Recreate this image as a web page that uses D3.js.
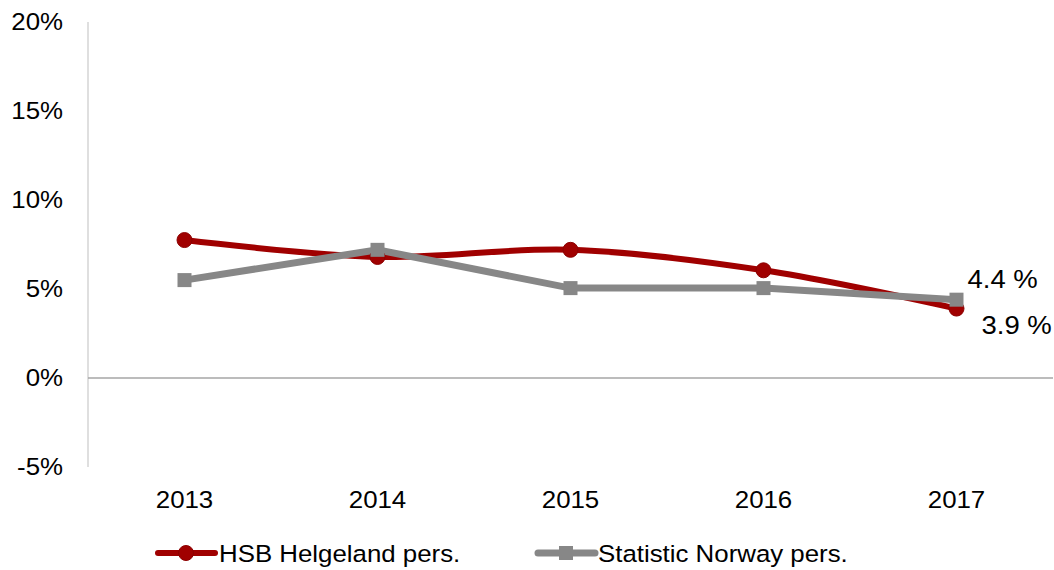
<!DOCTYPE html>
<html>
<head>
<meta charset="utf-8">
<script src="https://cdn.jsdelivr.net/npm/d3@7"></script>
<style>
  body { margin: 0; background: #fff; }
  svg text { font-family: "Liberation Sans", Arial, sans-serif; fill: #000; }
</style>
</head>
<body>
<div id="chart"></div>
<script>
// data
var years = ["2013", "2014", "2015", "2016", "2017"];
var hsbValues = [7.75, 6.8, 7.2, 6.05, 3.9];
var ssbValues = [5.5, 7.2, 5.05, 5.05, 4.4];
var yTicks = [-5, 0, 5, 10, 15, 20];
var seriesNames = ["HSB Helgeland pers.", "Statistic Norway pers."];

var W = 1054, H = 570;
var margin = {top: 22, right: 1, bottom: 103, left: 88};
var width = W - margin.left - margin.right,
    height = H - margin.top - margin.bottom;

var red = "#a00000", grey = "#878787";
var stretch = 1.1; // text in the original is a bit wide

var svg = d3.select("#chart").append("svg")
    .attr("width", W)
    .attr("height", H);

var g = svg.append("g")
    .attr("transform", "translate(" + margin.left + "," + margin.top + ")");

var x = d3.scaleBand().domain(years).range([0, width]);
var y = d3.scaleLinear().domain([-5, 20]).range([height, 0]);

function cx(d, i) { return x(years[i]) + x.bandwidth() / 2; }

// put a wide text at (tx, ty)
function wideText(sel, tx, ty) {
  return sel.attr("transform", "translate(" + tx + "," + ty + ") scale(" + stretch + ",1)");
}

// y axis line
g.append("line")
    .attr("x1", 0).attr("x2", 0)
    .attr("y1", 0).attr("y2", height)
    .attr("stroke", "#bfbfbf").attr("stroke-width", 1);

// zero line
g.append("line")
    .attr("x1", 0).attr("x2", width)
    .attr("y1", y(0)).attr("y2", y(0))
    .attr("stroke", "#a6a6a6").attr("stroke-width", 1.3);

// y tick labels
g.selectAll(".ytick")
    .data(yTicks)
    .enter().append("text")
    .attr("transform", function(d) { return "translate(-25," + (y(d) + 8) + ") scale(" + stretch + ",1)"; })
    .attr("text-anchor", "end")
    .style("font-size", "23.5px")
    .text(function(d) { return d + "%"; });

// x labels
g.selectAll(".xtick")
    .data(years)
    .enter().append("text")
    .attr("transform", function(d) { return "translate(" + (x(d) + x.bandwidth() / 2) + "," + (height + 41) + ") scale(" + stretch + ",1)"; })
    .attr("text-anchor", "middle")
    .style("font-size", "23.5px")
    .text(function(d) { return d; });

// HSB line (smoothed)
var smoothLine = d3.line()
    .x(cx)
    .y(function(d) { return y(d); })
    .curve(d3.curveCatmullRom.alpha(0));

g.append("path")
    .datum(hsbValues)
    .attr("d", smoothLine)
    .attr("fill", "none")
    .attr("stroke", red)
    .attr("stroke-width", 6)
    .attr("stroke-linecap", "round");

// SSB line (straight)
var straightLine = d3.line()
    .x(cx)
    .y(function(d) { return y(d); });

g.append("path")
    .datum(ssbValues)
    .attr("d", straightLine)
    .attr("fill", "none")
    .attr("stroke", grey)
    .attr("stroke-width", 7);

// markers
g.selectAll(".hsbDot")
    .data(hsbValues)
    .enter().append("circle")
    .attr("cx", cx)
    .attr("cy", function(d) { return y(d); })
    .attr("r", 7.5)
    .attr("fill", red)
    .attr("stroke", "#8c0000")
    .attr("stroke-width", 1);

g.selectAll(".ssbDot")
    .data(ssbValues)
    .enter().append("rect")
    .attr("x", function(d, i) { return cx(d, i) - 7; })
    .attr("y", function(d) { return y(d) - 7; })
    .attr("width", 14)
    .attr("height", 14)
    .attr("fill", grey);

// data labels on last point
var last = years.length - 1;
wideText(g.append("text"), cx(null, last) + 11, y(ssbValues[last]) - 12)
    .style("font-size", "25px")
    .text(ssbValues[last].toFixed(1) + " %");

wideText(g.append("text"), cx(null, last) + 25, y(hsbValues[last]) + 25)
    .style("font-size", "25px")
    .text(hsbValues[last].toFixed(1) + " %");

// legend
var legend = svg.append("g").attr("transform", "translate(0,553)");

var l1 = legend.append("g").attr("transform", "translate(158,0)");
l1.append("line").attr("x1", 0).attr("x2", 57).attr("y1", 0).attr("y2", 0)
    .attr("stroke", red).attr("stroke-width", 6).attr("stroke-linecap", "round");
l1.append("circle").attr("cx", 28).attr("cy", 0).attr("r", 7.5)
    .attr("fill", red).attr("stroke", "#8c0000");
wideText(l1.append("text"), 61, 8.5)
    .style("font-size", "23.5px").text(seriesNames[0]);

var l2 = legend.append("g").attr("transform", "translate(538,0)");
l2.append("line").attr("x1", 0).attr("x2", 57).attr("y1", 0).attr("y2", 0)
    .attr("stroke", grey).attr("stroke-width", 7).attr("stroke-linecap", "round");
l2.append("rect").attr("x", 21).attr("y", -7).attr("width", 14).attr("height", 14)
    .attr("fill", grey);
wideText(l2.append("text"), 60, 8.5)
    .style("font-size", "23.5px").text(seriesNames[1]);
</script>
</body>
</html>
